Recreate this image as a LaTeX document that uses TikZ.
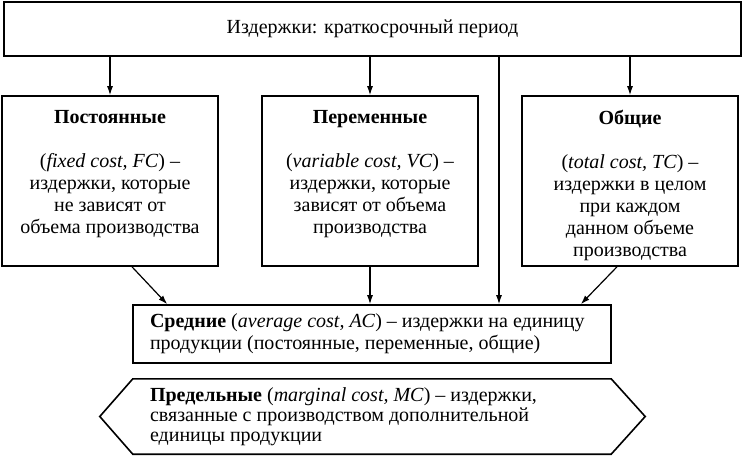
\documentclass[tikz,border=0pt]{standalone}
\usepackage{fontspec}
\setmainfont{Liberation Serif}
\usetikzlibrary{calc,arrows.meta}

\newcommand{\cellbox}[1]{\parbox[c][142pt][t]{204pt}{\centering #1}}

\begin{document}
\begin{tikzpicture}[x=1pt,y=-1pt,
  frame/.style={draw,line width=1.6pt},
  kind/.style={frame,inner xsep=6pt,inner ysep=14pt},
  link/.style={line width=1.2pt,-{Latex[length=9pt,width=6pt]}},
  font=\fontsize{20}{22}\selectfont]

\useasboundingbox (0,0) rectangle (742,464);

% header
\node[frame,minimum width=737pt,minimum height=54pt] (head) at (372.5,29) {Издержки: краткосрочный период};

% three kinds of cost
\node[kind] (fc) at (110,181) {\cellbox{{\bfseries Постоянные}\\[22pt]
  (\textit{fixed cost, FC}) --\\ издержки, которые\\ не зависят от\\ объема производства}};
\node[kind] (vc) at (370,181) {\cellbox{{\bfseries Переменные}\\[22pt]
  (\textit{variable cost, VC}) --\\ издержки, которые\\ зависят от объема\\ производства}};
\node[kind] (tc) at (630,181) {\cellbox{{\bfseries Общие}\\[22pt]
  (\textit{total cost, TC}) --\\ издержки в целом\\ при каждом\\ данном объеме\\ производства}};

\foreach \k in {fc,vc,tc}
  \draw[link] (head.south -| \k.north) -- (\k.north);

% average
\node[frame,minimum width=478pt,minimum height=58pt,inner xsep=17pt] (ac) at (372,334)
  {\parbox{444pt}{\raggedright\textbf{Средние} (\textit{average cost, AC}) -- издержки на единицу\\
   продукции (постоянные, переменные, общие)}};

\coordinate (split) at (499,56);
\draw[link] (head.south -| split) -- (ac.north -| split);
\draw[link] ($(fc.south)+(22,0)$) -- ($(ac.north west)+(35,0)$);
\draw[link] (vc.south) -- (vc.south |- ac.north);
\draw[link] ($(tc.south)+(-13,0)$) -- ($(ac.north east)+(-31,0)$);

% marginal
\node[minimum width=478pt,minimum height=75pt,inner xsep=17pt] (mc) at (372,416.5)
  {\parbox{444pt}{\raggedright\fontsize{20}{20}\selectfont
   \textbf{Предельные} (\textit{marginal cost, MC}) -- издержки,\\
   связанные с производством дополнительной\\ единицы продукции}};
\draw[frame] (mc.north west) -- (mc.north east) -- ($(mc.east)+(34,0)$)
  -- (mc.south east) -- (mc.south west) -- ($(mc.west)+(-33,0)$) -- cycle;

\end{tikzpicture}
\end{document}
